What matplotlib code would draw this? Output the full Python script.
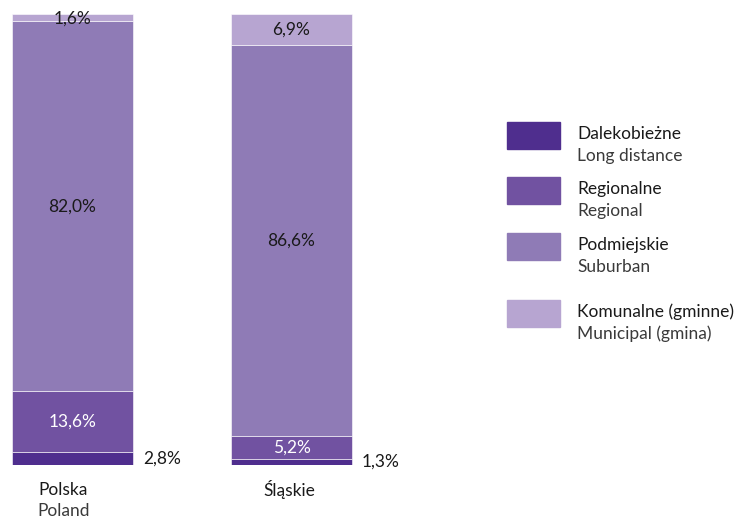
import numpy as np
import matplotlib.pyplot as plt
from matplotlib.patches import Rectangle

plt.rcParams['font.family'] = ['Lato', 'DejaVu Sans']

regions = ['Polska', 'Śląskie']
regions_en = ['Poland', '']
series_pl = ['Dalekobieżne', 'Regionalne', 'Podmiejskie', 'Komunalne (gminne)']
series_en = ['Long distance', 'Regional', 'Suburban', 'Municipal (gmina)']
# shares in %, bottom to top
long_distance = [2.8, 1.3]
regional = [13.6, 5.2]
suburban = [82.0, 86.6]
municipal = [1.6, 6.9]
colors = ['#4f2e8e', '#7152a1', '#8f7bb6', '#b7a5d1']

W, H = 744, 519
fig = plt.figure(figsize=(W / 100, H / 100), dpi=100)

# axes placed in pixel terms
ax_l, ax_r, ax_b, ax_t = 0, 420, 465, 14
ax = fig.add_axes([ax_l / W, 1 - ax_b / H, (ax_r - ax_l) / W, (ax_b - ax_t) / H])
ppu = 219.0
ax.set_xlim(-72.5 / ppu, (ax_r - 72.5) / ppu)
ax.set_ylim(0, 100)
ax.axis('off')

x = np.arange(len(regions))
bw = 121 / ppu
data = [long_distance, regional, suburban, municipal]
bottom = np.zeros(len(regions))
for vals, c in zip(data, colors):
    ax.bar(x, vals, bw, bottom=bottom, color=c, edgecolor='white', linewidth=0.4)
    bottom += np.array(vals)

fs = 12.5
fmt = lambda v: ('%.1f%%' % v).replace('.', ',')
for i in range(len(regions)):
    ld, rg, sb, mu = long_distance[i], regional[i], suburban[i], municipal[i]
    # long distance label to the right
    ax.text(x[i] + bw / 2 + 10 / ppu, ld / 2 + 0.1, fmt(ld), ha='left', va='center',
            fontsize=fs, color='#1a1a1a')
    ax.text(x[i], ld + rg / 2, fmt(rg), ha='center', va='center', fontsize=fs, color='white')
    ax.text(x[i], ld + rg + sb / 2, fmt(sb), ha='center', va='center', fontsize=fs,
            color='#1a1a1a')
    ym = ld + rg + sb + mu / 2
    if mu < 3:
        ym = 100 - 1.0
    ax.text(x[i], ym, fmt(mu), ha='center', va='center', fontsize=fs, color='#1a1a1a')
    ax.text(x[i] - (9 if i == 0 else 2) / ppu, -5.5, regions[i], ha='center', va='center',
            fontsize=fs, color='#1a1a1a', clip_on=False)
    if regions_en[i]:
        ax.text(x[i] - 9 / ppu, -10.3, regions_en[i], ha='center', va='center',
                fontsize=fs, color='#3a3a3a', clip_on=False)

# legend drawn by hand
leg_y = [122, 177, 233, 300]
for j in range(4):
    y0 = leg_y[j]
    fig.patches.append(Rectangle((507 / W, 1 - (y0 + 27) / H), 53 / W, 27 / H,
                                 transform=fig.transFigure, color=colors[j]))
    fig.text(577 / W, 1 - (y0 + 12) / H, series_pl[j], ha='left', va='center',
             fontsize=fs, color='#1a1a1a')
    fig.text(577 / W, 1 - (y0 + 34) / H, series_en[j], ha='left', va='center',
             fontsize=fs, color='#3a3a3a')

fig.savefig('out.png', dpi=100)
